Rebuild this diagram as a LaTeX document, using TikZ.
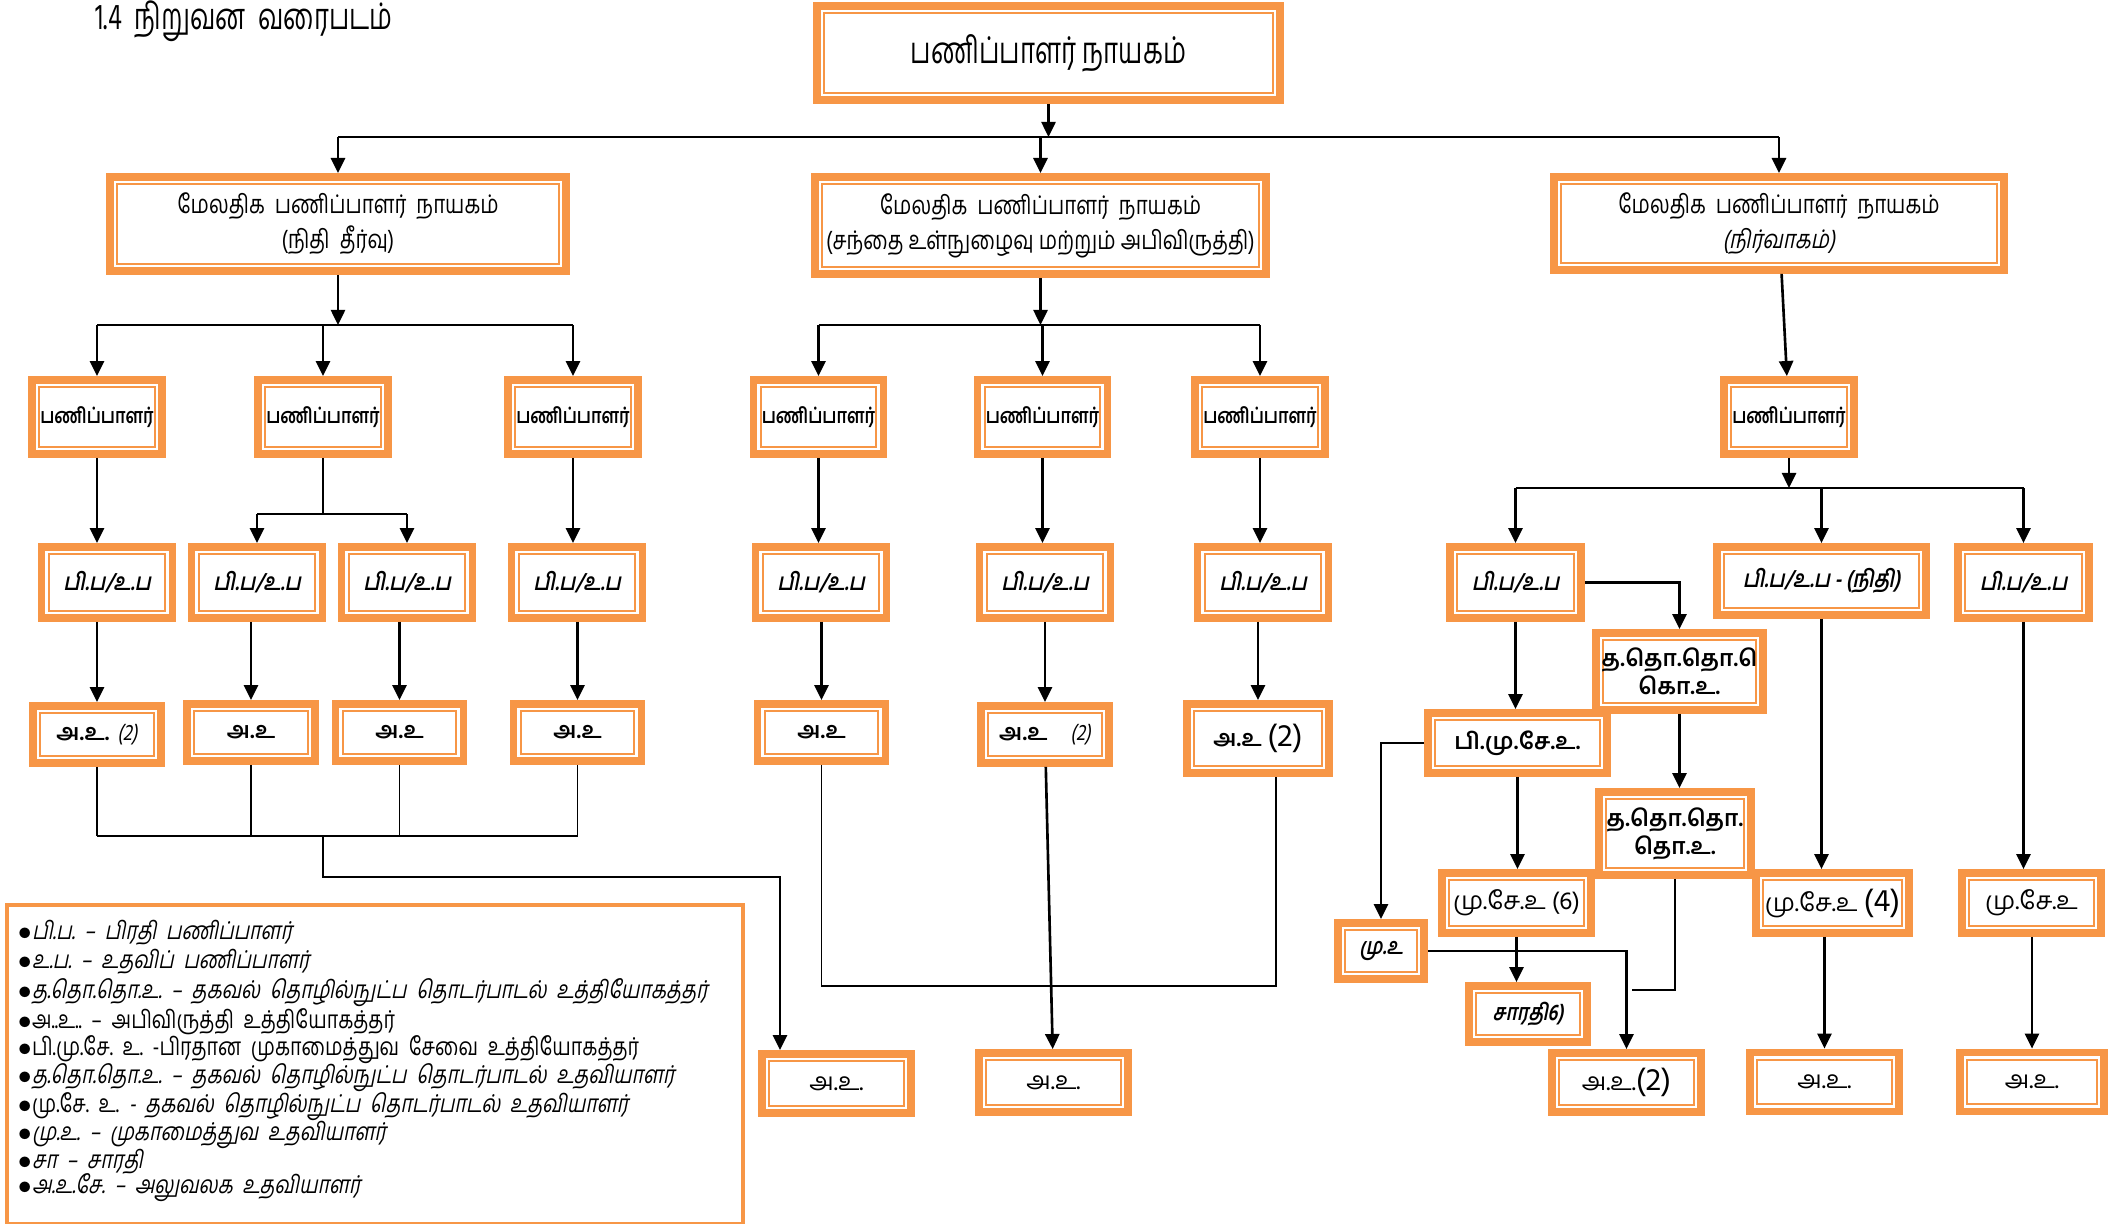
\documentclass[tikz,border=0pt]{standalone}
\usepackage{fontspec}
\setmainfont{Hind Madurai}[Script=Tamil, FakeStretch=0.8]
\newfontfamily\tamilwide[Script=Tamil]{Hind Madurai}
\newfontfamily\tamilhead[Script=Tamil, FakeStretch=0.7]{Hind Madurai}
\newfontfamily\tamilit[Script=Tamil, FakeSlant=0.2, FakeStretch=0.8]{Hind Madurai}
\newcommand*{\lonesign}{\XeTeXglyph\XeTeXcharglyph"0BC6\relax}
\usetikzlibrary{arrows.meta}
\definecolor{boxorange}{RGB}{247,150,70}
\tikzstyle{block} = [rectangle, draw=boxorange, line width=2.2pt, fill=white, align=center, inner sep=0pt,
    path picture={\draw [boxorange, line width=0.55pt] ([shift={(2.1pt,2.1pt)}]path picture bounding box.south west) rectangle ([shift={(-2.1pt,-2.1pt)}]path picture bounding box.north east);}]
\tikzstyle{head} = [block, minimum width=4.63cm, minimum height=0.94cm, font=\tamilhead\fontsize{10.5}{12}\selectfont]
\tikzstyle{deputy} = [block, minimum height=0.94cm, font=\fontsize{7.3}{10}\selectfont]
\tikzstyle{director} = [block, minimum width=1.30cm, minimum height=0.74cm, font=\bfseries\fontsize{6}{8}\selectfont]
\tikzstyle{assistant} = [block, minimum width=1.31cm, minimum height=0.71cm, font=\tamilit\bfseries\fontsize{6.8}{8}\selectfont]
\tikzstyle{officer} = [block, minimum width=1.28cm, minimum height=0.57cm, font=\tamilwide\bfseries\fontsize{6.5}{8}\selectfont]
\tikzstyle{lower} = [block, minimum width=1.49cm, minimum height=0.59cm, font=\tamilwide\fontsize{7}{8}\selectfont]
\tikzstyle{key} = [anchor=west, inner sep=0pt, font=\tamilit\fontsize{7}{8}\selectfont]
\tikzstyle{flow} = [-{Triangle[length=4.3pt, width=4pt]}, line width=0.75pt]
\tikzstyle{link} = [line width=0.55pt]

\begin{document}
\begin{tikzpicture}[x=0.01cm, y=-0.01cm]
    \useasboundingbox (0,0) rectangle (2108,1223);

    % Title.
    \node (title) [anchor=west, inner sep=0pt, font=\tamilhead\fontsize{10.4}{12}\selectfont] at (95,21) {1.4\ \ நிறுவன\ \ வரைபடம்};

    % Director general and deputies.
    \node (node 00) [head] at (1048.5,53) {பணிப்பாளர் நாயகம்};
    \node (node 11) [deputy, minimum width=4.56cm] at (338,224) {மேலதிக\ \ பணிப்பாளர்\ \ நாயகம்\\(நிதி\ \ தீர்வு)};
    \node (node 12) [deputy, minimum width=4.51cm, minimum height=0.97cm] at (1040.5,225.5) {மேலதிக\ \ பணிப்பாளர்\ \ நாயகம்\\(சந்தை உள்நுழைவு மற்றும் அபிவிருத்தி)};
    \node (node 13) [deputy, minimum width=4.50cm, minimum height=0.93cm] at (1779,223.5) {மேலதிக\ \ பணிப்பாளர்\ \ நாயகம்\\{\tamilit (நிர்வாகம்)}};

    % Directors.
    \foreach \i/\x in {1/97, 2/323, 3/573, 4/818.5, 5/1042.5, 6/1260, 7/1789} {
        \node (node 2\i) [director] at (\x,417) {பணிப்பாளர்};
    }

    % Deputy and assistant directors.
    \foreach \i/\x in {1/107, 2/257, 3/407, 4/577, 5/821, 6/1045, 7/1263, 8/1515.5, 10/2023.5} {
        \node (node 3\i) [assistant] at (\x,582.5) {பி.ப/உ.ப};
    }
    \node (node 39) [assistant, minimum width=2.09cm, minimum height=0.68cm] at (1821.5,581) {பி.ப/உ.ப - (நிதி)};

    % Development officers.
    \node (node 41) [officer] at (97,734.5) {அ.உ. {\tamilit\mdseries (2)}};
    \node (node 42) [officer] at (251,732.5) {அ.உ};
    \node (node 43) [officer] at (399.5,732.5) {அ.உ};
    \node (node 44) [officer] at (577.5,732.5) {அ.உ};
    \node (node 45) [officer] at (821.5,732.5) {அ.உ};
    \node (node 46) [officer] at (1045,734.5) {அ.உ\quad{\tamilit\mdseries (2)}};
    \node (node 47) [officer, minimum width=1.42cm, minimum height=0.69cm] at (1258,738.5) {அ.உ {\mdseries\fontsize{9}{10}\selectfont(2)}};

    % Administration branch.
    \node (node 52) [officer, minimum width=1.67cm, minimum height=0.77cm] at (1679.5,671.5) {த.தொ.தொ.\lonesign\\கொ.உ.};
    \node (node 51) [officer, minimum width=1.79cm, minimum height=0.60cm] at (1517.5,743) {பி.மு.சே.உ.};
    \node (node 53) [officer, minimum width=1.52cm, minimum height=0.83cm] at (1675,833.5) {த.தொ.தொ.\\தொ.உ.};
    \node (node 54) [officer, minimum width=0.86cm, minimum height=0.56cm, font=\tamilit\bfseries\fontsize{6.5}{8}\selectfont] at (1381,951) {மு.உ};
    \node (node 55) [lower, minimum width=1.49cm, minimum height=0.60cm] at (1516.5,903) {மு.சே.உ (6)};
    \node (node 56) [officer, minimum width=1.18cm, minimum height=0.56cm, font=\tamilit\bfseries\fontsize{6.5}{8}\selectfont] at (1528,1014) {சாரதி6)};
    \node (node 57) [lower, minimum width=1.53cm, minimum height=0.60cm] at (1832.5,903) {மு.சே.உ {\fontsize{9}{10}\selectfont(4)}};
    \node (node 58) [lower, minimum width=1.39cm, minimum height=0.60cm] at (2031.5,903) {மு.சே.உ};

    % Office assistants.
    \node (node 61) [lower] at (836.5,1083.5) {அ.உ.};
    \node (node 62) [lower] at (1053.5,1082.5) {அ.உ.};
    \node (node 63) [lower] at (1626.5,1082.5) {அ.உ.{\fontsize{9}{10}\selectfont(2)}};
    \node (node 64) [lower] at (1824.5,1082) {அ.உ.};
    \node (node 65) [lower, minimum width=1.44cm] at (2032,1082) {அ.உ.};

    % Key.
    \node (node 70) [draw=boxorange, line width=1pt, minimum width=7.36cm, minimum height=3.19cm, anchor=north west] at (5,903) {};
    \node (node 71) [key] at (17,933) {$\bullet$பி.ப.\ \ –\ \ பிரதி\ \ பணிப்பாளர்};
    \node (node 72) [key] at (17,962) {$\bullet$உ.ப.\ \ –\ \ உதவிப்\ \ பணிப்பாளர்};
    \node (node 73) [key] at (17,993) {$\bullet$த.தொ.தொ.உ.\ \ –\ \ தகவல்\ \ தொழில்நுட்ப\ \ தொடர்பாடல்\ \ உத்தியோகத்தர்};
    \node (node 74) [key, font=\fontsize{7}{8}\selectfont] at (17,1022) {$\bullet$அ..உ..\ \ –\ \ அபிவிருத்தி\ \ உத்தியோகத்தர்};
    \node (node 75) [key, font=\fontsize{7}{8}\selectfont] at (17,1050) {$\bullet$பி.மு.சே.\ \ உ.\ \ -பிரதான\ \ முகாமைத்துவ\ \ சேவை\ \ உத்தியோகத்தர்};
    \node (node 76) [key] at (17,1078) {$\bullet$த.தொ.தொ.உ.\ \ –\ \ தகவல்\ \ தொழில்நுட்ப\ \ தொடர்பாடல்\ \ உதவியாளர்};
    \node (node 77) [key] at (17,1107) {$\bullet${\rmfamily மு.சே.\ \ உ.}\ \ -\ \ தகவல்\ \ தொழில்நுட்ப\ \ தொடர்பாடல்\ \ உதவியாளர்};
    \node (node 78) [key] at (17,1135) {$\bullet$மு.உ.\ \ –\ \ முகாமைத்துவ\ \ உதவியாளர்};
    \node (node 79) [key] at (17,1162) {$\bullet$சா\ \ –\ \ சாரதி};
    \node (node 7a) [key] at (17,1188) {$\bullet$அ.உ.சே.\ \ –\ \ அலுவலக\ \ உதவியாளர்};

    % Bus lines.
    \coordinate (bus 1) at (0,137);
    \coordinate (bus 2) at (0,325);
    \coordinate (bus 3) at (0,514);
    \coordinate (bus 4) at (0,488);
    \coordinate (bus 5) at (0,836);
    \coordinate (bus 6) at (0,986);
    \coordinate (drop 1) at (323,877);
    \coordinate (drop 2) at (780,877);
    \coordinate (join 1) at (1632,990);

    % Top level.
    \draw [flow] (node 00) -- (node 00 |- bus 1);
    \draw [line width=0.75pt] (node 11.north |- bus 1) -- (node 13.north |- bus 1);
    \foreach \i in {1, 2, 3} {
        \draw [flow] (node 1\i.north |- bus 1) -- (node 1\i);
    }

    % Deputies to directors.
    \draw [flow] (node 11) -- (node 11 |- bus 2);
    \draw [flow] (node 12) -- (node 12 |- bus 2);
    \draw [line width=0.75pt] (node 21.north |- bus 2) -- (node 23.north |- bus 2);
    \draw [line width=0.75pt] (node 24.north |- bus 2) -- (node 26.north |- bus 2);
    \foreach \i in {1, ..., 6} {
        \draw [flow] (node 2\i.north |- bus 2) -- (node 2\i);
    }
    \draw [flow] (node 13) -- (node 27);

    % Directors to assistants.
    \foreach \i/\j in {1/1, 3/4, 4/5, 5/6, 6/7} {
        \draw [flow] (node 2\i) -- (node 2\i |- node 3\j.north);
    }
    \draw [line width=0.75pt] (node 22) -- (node 22 |- bus 3);
    \draw [line width=0.75pt] (node 32.north |- bus 3) -- (node 33.north |- bus 3);
    \draw [flow] (node 27) -- (node 27 |- bus 4);
    \draw [line width=0.75pt] (node 38.north |- bus 4) -- (node 310.north |- bus 4);
    \foreach \i in {2, 3} {
        \draw [flow] (node 3\i.north |- bus 3) -- (node 3\i);
    }
    \foreach \i in {8, 9, 10} {
        \draw [flow] (node 3\i.north |- bus 4) -- (node 3\i);
    }

    % Assistants to officers.
    \foreach \i in {1, ..., 7} {
        \draw [flow] (node 4\i.north |- node 3\i.south) -- (node 4\i);
    }

    % Left group to office assistant.
    \foreach \i in {1, ..., 4} {
        \draw [link] (node 4\i) -- (node 4\i |- bus 5);
    }
    \draw [line width=0.75pt] (node 41 |- bus 5) -- (node 44 |- bus 5);
    \draw [flow] (drop 1 |- bus 5) -- (drop 1) -- (drop 2) -- (drop 2 |- node 61.north);

    % Middle group.
    \draw [link] (node 45) -- (node 45 |- bus 6) -- ([xshift=0.18cm]node 47.south |- bus 6) -- ([xshift=0.18cm]node 47.south);
    \draw [flow] (node 46) -- (node 62);

    % Administration branch.
    \draw [flow] (node 38) -- (node 38 |- node 51.north);
    \draw [flow] (node 38) -| (node 52);
    \draw [flow] (node 52) -- (node 52 |- node 53.north);
    \draw [flow] (node 51) -| (node 54);
    \draw [flow] (node 51) -- (node 51 |- node 55.north);
    \draw [flow] (node 55) -- (node 55 |- node 56.north);
    \draw [flow] (node 54) -| (node 63);
    \draw [link] (node 53) -- (node 53 |- join 1) -- (join 1);
    \draw [flow] (node 39) -- (node 39 |- node 57.north);
    \draw [flow] (node 64.north |- node 57.south) -- (node 64);
    \draw [flow] (node 310) -- (node 310 |- node 58.north);
    \draw [flow] (node 65.north |- node 58.south) -- (node 65);
\end{tikzpicture}
\end{document}
